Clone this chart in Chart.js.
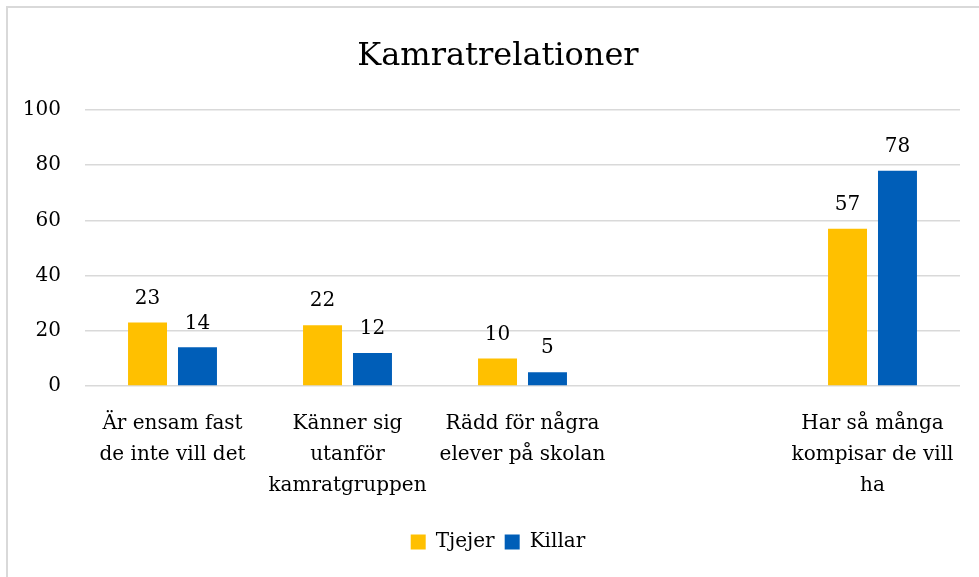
<!DOCTYPE html>
<html>
<head>
<meta charset="utf-8">
<script src="https://cdn.jsdelivr.net/npm/chart.js@4/dist/chart.umd.min.js"></script>
<style>
  html, body { margin: 0; padding: 0; background: #fff; overflow: hidden; }
  #wrap { position: absolute; left: 0; top: 0; width: 979px; height: 577px; overflow: hidden; }
  #frame { position: absolute; left: 6px; top: 6px; width: 1000px; height: 600px; border: 2px solid #d9d9d9; box-sizing: border-box; }
  canvas { position: absolute; left: 0; top: 0; }
</style>
</head>
<body>
<div id="wrap">
  <div id="frame"></div>
  <canvas id="c" width="996" height="577"></canvas>
</div>
<script>
const categories = [
  ["Är ensam fast", "de inte vill det"],
  ["Känner sig", "utanför", "kamratgruppen"],
  ["Rädd för några", "elever på skolan"],
  "",
  ["Har så många", "kompisar de vill", "ha"]
];
const tjejer = [23, 22, 10, null, 57];
const killar = [14, 12, 5, null, 78];
const yTicks = [0, 20, 40, 60, 80, 100];

const FONT = "'DejaVu Serif', 'Liberation Serif', serif";

const dataLabels = {
  id: 'dataLabels',
  afterDatasetsDraw(chart) {
    const ctx = chart.ctx;
    ctx.save();
    ctx.font = "20px " + FONT;
    ctx.fillStyle = "#000";
    ctx.textAlign = "center";
    ctx.textBaseline = "middle";
    chart.data.datasets.forEach((ds, i) => {
      const meta = chart.getDatasetMeta(i);
      meta.data.forEach((bar, j) => {
        const v = ds.data[j];
        if (v === null || v === undefined) return;
        ctx.fillText(String(v), bar.x, bar.y - 24);
      });
    });
    ctx.restore();
  }
};

new Chart(document.getElementById('c'), {
  type: 'bar',
  data: {
    labels: categories,
    datasets: [
      { label: 'Tjejer', data: tjejer, backgroundColor: '#FFC000', borderWidth: 0 },
      { label: 'Killar', data: killar, backgroundColor: '#005EB8', borderWidth: 0 }
    ]
  },
  options: {
    responsive: false,
    animation: false,
    devicePixelRatio: 1,
    layout: { padding: { left: 0, right: 0, top: 0, bottom: 15 } },
    datasets: { bar: { categoryPercentage: 0.571, barPercentage: 0.78 } },
    plugins: {
      title: {
        display: true,
        text: 'Kamratrelationer',
        color: '#000',
        font: { family: FONT, size: 32, weight: 'normal' },
        padding: { top: 37, bottom: 34.6 }
      },
      legend: {
        display: true,
        position: 'bottom',
        labels: {
          color: '#000',
          font: { family: FONT, size: 20 },
          boxWidth: 15,
          boxHeight: 15,
          padding: 10
        }
      },
      tooltip: { enabled: false }
    },
    scales: {
      x: {
        grid: { display: false, drawTicks: false },
        border: { display: false },
        ticks: {
          color: '#000',
          font: { family: FONT, size: 20, lineHeight: 1.55 },
          maxRotation: 0, minRotation: 0, autoSkip: false,
          padding: 22
        },
        afterFit(s) { s.height = 136; }
      },
      y: {
        min: 0, max: 100,
        afterBuildTicks(s) { s.ticks = yTicks.map(v => ({ value: v })); },
        grid: { color: '#d9d9d9', lineWidth: 1.5, drawTicks: false },
        border: { display: false },
        ticks: {
          color: '#000',
          font: { family: FONT, size: 20 },
          padding: 24
        },
        afterFit(s) { s.width = 85; }
      },
      yRight: {
        type: 'linear',
        position: 'right',
        display: true,
        min: 0, max: 100,
        grid: { display: false, drawTicks: false },
        border: { display: false },
        ticks: { display: false },
        afterFit(s) { s.width = 36; }
      }
    }
  },
  plugins: [dataLabels]
});
</script>
</body>
</html>
